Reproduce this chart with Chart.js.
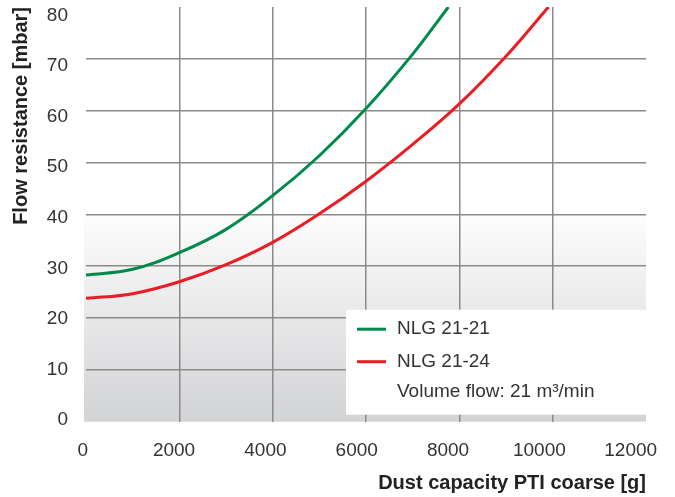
<!DOCTYPE html>
<html>
<head>
<meta charset="utf-8">
<script src="https://cdn.jsdelivr.net/npm/chart.js@4.4.1/dist/chart.umd.min.js"></script>
<style>
  html, body { margin: 0; padding: 0; background: #fff; }
  canvas { display: block; }
</style>
</head>
<body>
<canvas id="grafico" width="675" height="497"></canvas>
<script>
// values
const poeiraVerde = [0, 1000, 2000, 3000, 4000, 5000, 6000, 7000, 7765]
const resistVerde = [28.3, 29.4, 32.6, 37.1, 43.6, 51.3, 60.4, 70.9, 80]

const poeiraVermelho = [0, 1000, 2000, 3000, 4000, 5000, 6000, 7000, 8000, 9000, 9910]
const resistVermelho = [23.8, 24.7, 27.0, 30.3, 34.6, 40.1, 46.4, 53.5, 61.3, 70.5, 80]

const nomesSeries = ['NLG 21-21', 'NLG 21-24']
const notaLegenda = 'Volume flow: 21 m\u00b3/min'

const ticksX = [0, 2000, 4000, 6000, 8000, 10000, 12000]
const ticksY = [0, 10, 20, 30, 40, 50, 60, 70, 80]

const verde = '#008a4b'
const vermelho = '#ec1c24'
const corTexto = '#333333'
const corGrade = '#8a8a8a'

Chart.defaults.font.family = "'Liberation Sans', Arial, sans-serif"

const ctx = document.getElementById('grafico').getContext('2d')

const pontos = (xs, ys) => xs.map((x, i) => ({ x: x, y: ys[i] }))

// no extra room for labels hanging over the ends, the layout is fixed
const semPadding = (s) => {
  s.paddingTop = 0
  s.paddingBottom = 0
  s.paddingLeft = 0
  s.paddingRight = 0
}

// grey fade behind the lower part of the plot
const fundo = {
  id: 'fundo',
  beforeDraw(chart) {
    const { ctx, chartArea: a, scales } = chart
    const y0 = scales.y.getPixelForValue(42)
    const g = ctx.createLinearGradient(0, y0, 0, a.bottom)
    g.addColorStop(0, '#ffffff')
    g.addColorStop(1, '#d2d3d5')
    ctx.save()
    ctx.fillStyle = '#ffffff'
    ctx.fillRect(a.left - 2, a.top, a.right - a.left + 2, y0 - a.top)
    ctx.fillStyle = g
    ctx.fillRect(a.left - 2, y0, a.right - a.left + 2, a.bottom - y0)
    ctx.restore()
  }
}

// white legend box inside the plot, bottom right
const legendaCaixa = {
  id: 'legendaCaixa',
  afterDatasetsDraw(chart) {
    const { ctx, chartArea: a } = chart
    const bx = a.left + 260, by = a.bottom - 112
    ctx.save()
    ctx.fillStyle = '#ffffff'
    ctx.fillRect(bx, by, a.right - bx, 105)
    ctx.font = "19px 'Liberation Sans', Arial, sans-serif"
    ctx.textBaseline = 'middle'
    ctx.fillStyle = corTexto
    chart.data.datasets.forEach((ds, i) => {
      const ly = by + 19.5 + i * 32.5
      ctx.strokeStyle = ds.borderColor
      ctx.lineWidth = 3
      ctx.beginPath()
      ctx.moveTo(bx + 11, ly)
      ctx.lineTo(bx + 40, ly)
      ctx.stroke()
      ctx.fillText(ds.label, bx + 51, ly)
    })
    ctx.fillText(notaLegenda, bx + 51, by + 82)
    ctx.restore()
  }
}

let grafico = new Chart(ctx, {
  type: 'line',
  data: {
    datasets: [{
      label: nomesSeries[0],
      data: pontos(poeiraVerde, resistVerde),
      borderColor: verde,
      backgroundColor: verde,
      borderWidth: 3,
      pointRadius: 0,
      fill: false,
      tension: 0.4
    }, {
      label: nomesSeries[1],
      data: pontos(poeiraVermelho, resistVermelho),
      borderColor: vermelho,
      backgroundColor: vermelho,
      borderWidth: 3,
      pointRadius: 0,
      fill: false,
      tension: 0.4
    }]
  },
  options: {
    responsive: false,
    animation: false,
    devicePixelRatio: 1,
    layout: { padding: { top: 7, right: 29, left: 0, bottom: 0 } },
    plugins: {
      legend: { display: false },
      tooltip: { enabled: false }
    },
    scales: {
      x: {
        type: 'linear',
        min: 0,
        max: 12000,
        ticks: { display: false, stepSize: 2000 },
        grid: {
          drawTicks: false,
          lineWidth: 1.5,
          color: (c) => (c.tick && (c.tick.value === 0 || c.tick.value === 12000)) ? 'transparent' : corGrade
        },
        border: { display: false },
        afterFit: (s) => { s.height = 0; semPadding(s) }
      },
      // label axis: the reference prints its numbers on a slightly tighter scale than the grid
      x2: {
        type: 'linear',
        axis: 'x',
        position: 'bottom',
        min: 72,
        max: 12335,
        afterBuildTicks: (s) => { s.ticks = ticksX.map(v => ({ value: v })) },
        ticks: {
          autoSkip: false,
          maxRotation: 0,
          padding: 18,
          color: corTexto,
          font: { size: 19 },
          callback: (v) => String(v)
        },
        grid: { display: false, drawTicks: false },
        border: { display: false },
        title: {
          display: true,
          text: 'Dust capacity PTI coarse [g]',
          align: 'end',
          color: '#222222',
          font: { size: 20, weight: 'bold' },
          padding: { top: 0, bottom: 2 }
        },
        afterFit: (s) => { s.height = 75.3; semPadding(s) }
      },
      y: {
        type: 'linear',
        min: 0,
        max: 80,
        ticks: { display: false, stepSize: 10 },
        grid: {
          drawTicks: false,
          lineWidth: 1.5,
          color: (c) => (c.tick && (c.tick.value === 0 || c.tick.value === 80)) ? 'transparent' : corGrade
        },
        border: { display: false },
        afterFit: (s) => { s.width = 0; semPadding(s) }
      },
      y2: {
        type: 'linear',
        axis: 'y',
        position: 'left',
        weight: 1,
        min: -0.34,
        max: 81.68,
        afterBuildTicks: (s) => { s.ticks = ticksY.map(v => ({ value: v })) },
        ticks: {
          autoSkip: false,
          padding: 18,
          color: corTexto,
          font: { size: 19 },
          callback: (v) => String(v)
        },
        grid: { display: false, drawTicks: false },
        border: { display: false },
        title: {
          display: true,
          text: 'Flow resistance [mbar]',
          align: 'end',
          color: '#222222',
          font: { size: 20, weight: 'bold' },
          padding: { top: 9, bottom: 0 }
        },
        afterFit: (s) => { s.width = 86; semPadding(s) }
      }
    }
  },
  plugins: [fundo, legendaCaixa]
})
</script>
</body>
</html>
